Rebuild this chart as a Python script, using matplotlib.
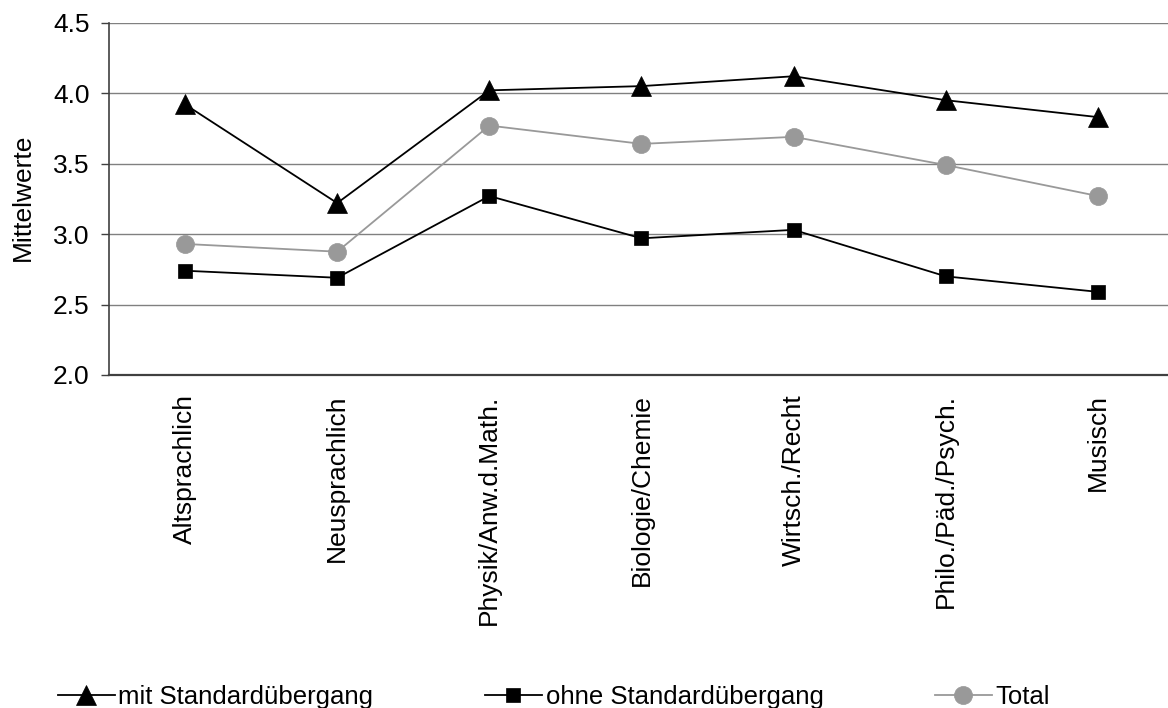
import numpy as np
import matplotlib
matplotlib.use('Agg')
import matplotlib.pyplot as plt

plt.rcParams['font.family'] = ['Liberation Sans', 'DejaVu Sans']
plt.rcParams['font.size'] = 19

# Mittelwerte je Profil
profile = ['Altsprachlich', 'Neusprachlich', 'Physik/Anw.d.Math.', 'Biologie/Chemie',
           'Wirtsch./Recht', 'Philo./Päd./Psych.', 'Musisch']
mit_std = [3.92, 3.22, 4.02, 4.05, 4.12, 3.95, 3.83]
ohne_std = [2.74, 2.69, 3.27, 2.97, 3.03, 2.70, 2.59]
total = [2.93, 2.875, 3.77, 3.64, 3.69, 3.49, 3.27]
yticks = [2.0, 2.5, 3.0, 3.5, 4.0, 4.5]

fig = plt.figure(figsize=(11.68, 7.08), dpi=100)
ax = fig.add_axes([109/1168, 1-375/708, 1065/1168, 352.3/708])

x = np.arange(len(profile))
ax.plot(x, mit_std, color='black', lw=1.3, marker='^', ms=14, mec='black', mew=0.5,
        label='mit Standardübergang', zorder=3)
ax.plot(x, ohne_std, color='black', lw=1.3, marker='s', ms=10.5, mec='black', mew=0.5,
        label='ohne Standardübergang', zorder=3)
ax.plot(x, total, color='#999999', lw=1.3, marker='o', ms=13, mec='#999999', mew=0.5,
        label='Total', zorder=3)

ax.set_xlim(-0.5, len(profile) - 0.5)
ax.set_ylim(2.0, 4.5)
ax.set_yticks(yticks)
ax.set_yticklabels(['%.1f' % v for v in yticks])
ax.set_xticks(x)
ax.set_xticklabels(profile, rotation=90)
ax.tick_params(axis='x', length=0, pad=14)
ax.tick_params(axis='y', length=6, width=1, color='#404040', pad=8)

ax.grid(axis='y', color='#808080', lw=1)
ax.set_axisbelow(True)
for s in ['top', 'right']:
    ax.spines[s].set_visible(False)
ax.spines['left'].set_color('#404040')
ax.spines['bottom'].set_color('#404040')
ax.spines['left'].set_linewidth(1.2)
ax.spines['bottom'].set_linewidth(1.6)

fig.text(23/1168, 1-197/708, 'Mittelwerte', rotation=90, ha='center', va='center')

fig.legend(loc='center left', bbox_to_anchor=(58/1168, 1-697/708), ncol=3, frameon=False,
           borderpad=0, borderaxespad=0, handlelength=2.2, handletextpad=0.15,
           columnspacing=4.35, fontsize=18.5)

fig.savefig('out.png', dpi=100)
